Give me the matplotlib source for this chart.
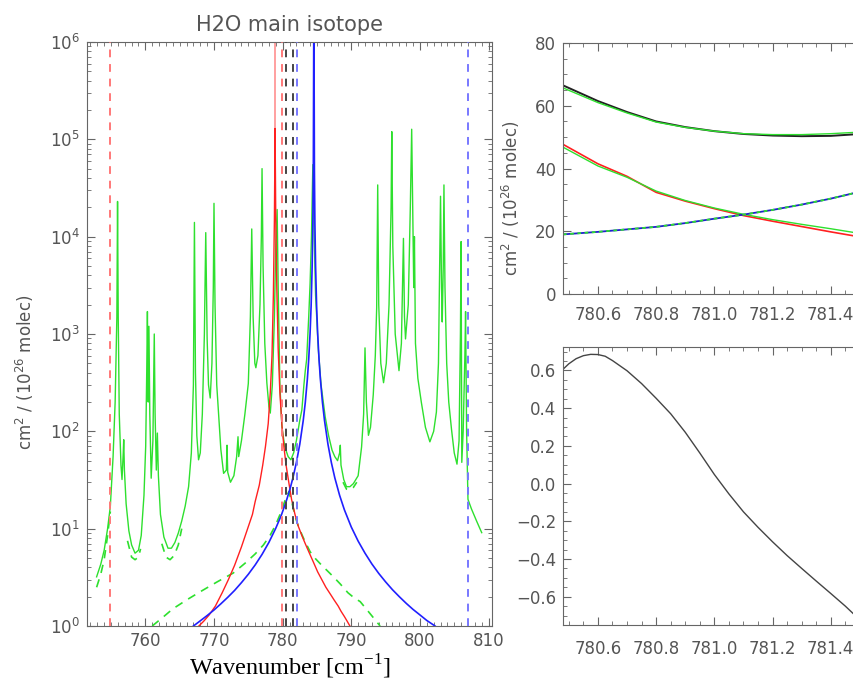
import numpy as np
import matplotlib.pyplot as plt
from matplotlib.ticker import MultipleLocator, LogLocator, NullFormatter

nan = float('nan')

# ---- left panel: full spectrum ----
green_x = [752.9, 753.5, 754.0, 754.5, 754.9, 755.3, 755.6, 755.85, 755.95, 756.05,
           756.2, 756.45, 756.6, 756.78, 756.85, 756.95, 757.2, 757.6, 758.0, 758.5,
           759.0, 759.4, 759.8, 760.05, 760.2, 760.3, 760.42, 760.52, 760.65, 760.85,
           761.1, 761.3, 761.42, 761.6, 761.75, 761.9, 762.2, 762.7, 763.3, 763.8,
           764.3, 764.8, 765.3, 765.8, 766.3, 766.7, 767.0, 767.15, 767.3, 767.5,
           767.75, 768.0, 768.3, 768.6, 768.8, 769.0, 769.2, 769.45, 769.7, 769.9,
           770.0, 770.15, 770.4, 770.7, 771.0, 771.4, 771.8, 771.9, 772.0, 772.4,
           772.9, 773.3, 773.5, 773.6, 774.0, 774.5, 775.0, 775.3, 775.5, 775.7,
           775.95, 776.1, 776.4, 776.7, 776.9, 777.0, 777.15, 777.4, 777.7, 778.0,
           778.2, 778.5, 778.8, 779.0, 779.2, 779.35, 779.6, 779.9, 780.3, 780.8,
           781.2, 781.6, 782.0, 782.5, 782.8, 783.1, 783.3, 783.5, 783.8, 784.0,
           784.2, 784.4, 784.6, 784.8, 785.0, 785.2, 785.6, 786.2, 786.7, 787.2,
           787.6, 788.0, 788.3, 788.4, 788.5, 788.9, 789.3, 789.8, 790.3, 791.0,
           791.5, 791.8, 792.0, 792.2, 792.5, 792.8, 793.2, 793.5, 793.7, 793.85,
           794.0, 794.3, 794.7, 795.1, 795.5, 795.8, 795.9, 796.05, 796.4, 796.95,
           797.3, 797.6, 797.75, 797.9, 798.3, 798.6, 798.8, 798.95, 799.1, 799.2,
           799.35, 799.7, 800.2, 800.8, 801.45, 802.0, 802.4, 802.7, 803.0, 803.15,
           803.25, 803.4, 803.5, 803.65, 803.9, 804.2, 804.6, 805.0, 805.4, 805.7,
           805.9, 806.0, 806.1, 806.3, 806.55, 806.65, 806.8, 807.0, 807.5, 808.25,
           809.0]
green_y = [3.2, 4.3, 6.0, 10, 17, 55, 200, 1500, 23000, 1500,
           150, 45, 32, 60, 82, 40, 18, 9.5, 6.8, 5.6,
           6.0, 8.5, 22, 70, 400, 1700, 200, 1200, 150, 33,
           80, 1000, 150, 40, 96, 35, 14, 8.2, 6.3, 6.3,
           7.2, 9.0, 12, 17, 27, 60, 300, 14000, 400, 90,
           51, 60, 150, 1000, 11000, 900, 300, 220, 500, 3000,
           22000, 2000, 300, 140, 65, 37, 40, 72, 38, 30,
           35, 55, 88, 55, 80, 150, 310, 1500, 12000, 1500,
           500, 450, 600, 2000, 10000, 50000, 5000, 800, 315, 180,
           154, 300, 1500, 8000, 19000, 3000, 300, 110, 70, 55,
           51, 60, 80, 130, 166, 300, 420, 550, 1500, 3300,
           10000, 55000, 10000, 2500, 1300, 690, 300, 141, 90, 64,
           55, 50, 60, 72, 45, 32, 27, 27, 29, 35,
           69, 150, 720, 200, 91, 110, 237, 600, 1860, 34000,
           2000, 500, 316, 500, 2000, 20000, 120000, 8000, 1000, 420,
           800, 9600, 1500, 890, 2000, 20000, 127000, 20000, 3000, 10000,
           800, 350, 200, 110, 78, 100, 158, 500, 26000, 3000,
           1330, 5000, 34000, 3000, 500, 200, 105, 60, 46, 80,
           1000, 8900, 48, 100, 600, 1700, 100, 20, 16, 12,
           9.1]

# dashed green (visible pieces only, nan = gap)
gdash_x = [752.9, 753.5, 754.0, 754.5, 754.9, nan,
           757.4, 758.0, 758.5, 759.0, 759.3, nan,
           762.4, 763.0, 763.6, 764.2, 764.8, 765.3, nan,
           788.8, 789.3, 789.8, 790.3, 790.8, nan,
           761.0, 762.5, 764.0, 766.0, 768.0, 770.5, 772.8, 774.5, 776.0, 777.2,
           778.2, 779.0, 779.8, 780.4, 780.9, 781.4, 781.8, 782.3, 783.1, 784.0,
           784.8, 785.7, 786.5, 787.4, 788.4, 789.5, 790.4, 791.3, 792.7, 794.2]
gdash_y = [2.5, 3.4, 4.8, 8.5, 15, nan,
           7.5, 5.1, 4.8, 5.1, 6.2, nan,
           7.0, 5.1, 4.8, 5.3, 6.8, 10, nan,
           30, 25.5, 25, 26.5, 30, nan,
           1.0, 1.22, 1.5, 1.85, 2.25, 2.85, 3.5, 4.4, 5.5, 6.8,
           8.6, 11, 15, 20, 24, 18, 13.5, 10.5, 7.8, 5.8,
           4.9, 4.2, 3.7, 3.2, 2.7, 2.2, 1.95, 1.78, 1.35, 1.0]

red_x = [767.8, 768.5, 769.3, 770.2, 771.2, 772.1, 773.0, 774.0, 775.0, 775.6,
         776.0, 776.6, 777.1, 777.5, 777.9, 778.2, 778.45, 778.65, 778.8, 778.9,
         779.0, 779.15, 779.35, 779.6, 779.9, 780.2, 780.5, 780.8, 781.3, 781.8,
         782.3, 782.8, 783.3, 783.9, 784.5, 785.1, 785.7, 786.3, 787.0, 787.5,
         788.1, 788.5, 789.0, 789.4, 789.8]
red_y = [1.0, 1.12, 1.3, 1.6, 2.2, 3.0, 4.2, 6.5, 10.5, 14,
         19, 28, 45, 70, 120, 250, 600, 2500, 15000, 130000,
         15000, 3000, 700, 250, 115, 68, 45, 33, 20, 14,
         10.5, 8.5, 7.0, 5.6, 4.5, 3.6, 3.0, 2.5, 2.1, 1.85,
         1.6, 1.42, 1.25, 1.12, 1.0]

blue_x = [767.0, 768.0, 769.0, 770.0, 771.0, 772.0, 773.0, 774.0, 775.0, 776.0,
          777.0, 778.0, 779.0, 779.8, 780.5, 781.1, 781.5, 782.0, 782.5, 783.0,
          783.3, 783.6, 783.8, 784.0, 784.15, 784.3, 784.4, 784.47, 784.55, 784.63,
          784.7, 784.8, 784.95, 785.1, 785.3, 785.5, 785.8, 786.1, 786.6, 787.1,
          787.6, 788.3, 789.0, 790.0, 791.0, 792.0, 793.0, 794.0, 795.0, 796.0,
          797.0, 798.0, 799.0, 800.0, 801.0, 802.2]
blue_y = [1.0, 1.13, 1.28, 1.46, 1.69, 1.97, 2.32, 2.79, 3.4, 4.24,
          5.44, 7.23, 10.1, 13.7, 18.9, 26, 33.3, 47.7, 73.8, 129,
          198, 343, 551, 1025, 1940, 4960, 13800, 48400, 3e6, 48400,
          13800, 4960, 1940, 1025, 551, 343, 198, 129, 73.8, 47.7,
          33.3, 22, 15.6, 10.4, 7.45, 5.6, 4.34, 3.47, 2.84, 2.36,
          2.0, 1.71, 1.48, 1.30, 1.14, 1.0]

red_window = [754.9, 779.9]
zoom_window = [780.48, 781.5]
blue_window = [782.1, 807.0]

# ---- top right: zoom on 780.5-781.5 ----
zoom_x = [780.48, 780.6, 780.7, 780.8, 780.9, 781.0, 781.1, 781.2, 781.3, 781.4, 781.5, 781.6]
tot_y = [66.5, 61.5, 58.0, 55.0, 53.2, 51.9, 51.0, 50.5, 50.3, 50.4, 51.0, 51.8]
tot_g = [65.7, 61.0, 57.7, 54.8, 53.1, 51.9, 51.1, 50.8, 50.8, 51.1, 51.6, 52.4]
red_z = [47.7, 41.5, 37.5, 32.4, 29.6, 27.2, 25.0, 23.2, 21.5, 19.8, 18.2, 16.8]
red_g = [46.8, 40.8, 37.2, 32.8, 29.8, 27.4, 25.4, 23.7, 22.2, 20.8, 19.3, 18.1]
blue_z = [19.0, 19.8, 20.6, 21.4, 22.6, 24.0, 25.3, 26.8, 28.5, 30.4, 32.6, 34.8]

# ---- bottom right: difference ----
diff_x = [780.476, 780.5, 780.525, 780.55, 780.575, 780.6, 780.625, 780.65, 780.7,
          780.75, 780.8, 780.85, 780.9, 780.95, 781.0, 781.05, 781.1, 781.15,
          781.2, 781.25, 781.3, 781.35, 781.4, 781.45, 781.5]
diff_y = [0.600, 0.635, 0.662, 0.678, 0.685, 0.684, 0.675, 0.652, 0.598,
          0.530, 0.452, 0.370, 0.272, 0.162, 0.048, -0.055, -0.150, -0.232,
          -0.309, -0.382, -0.450, -0.517, -0.583, -0.650, -0.723]

GREEN = '#2ee02e'
GRAY = '#555555'
ylab = r'cm$^2$ / (10$^{26}$ molec)'

fig = plt.figure(figsize=(8.54, 6.8), dpi=100)
W, H = 854.0, 680.0


def style(ax):
    ax.tick_params(which='both', direction='in', top=True, right=True,
                   colors='#666666', labelcolor=GRAY, labelsize=12)
    ax.tick_params(which='major', length=6)
    ax.tick_params(which='minor', length=3)
    for s in ax.spines.values():
        s.set_color('#666666')


# left panel
ax = fig.add_axes([87 / W, 1 - 626 / H, 405 / W, 584 / H])
ax.plot(green_x, green_y, color=GREEN, lw=1)
ax.plot(gdash_x, gdash_y, color=GREEN, lw=1.2, ls=(0, (5, 4)))
ax.plot(red_x, red_y, color='#ff2020', lw=1)
ax.plot(blue_x, blue_y, color='#2020ff', lw=1.2)
ipk = red_y.index(max(red_y))
ax.vlines(red_x[ipk], red_y[ipk], 1e6, color='#ff9090', lw=1.2)
for xs, c in [(red_window, '#ff7878'), (zoom_window, '#444444'), (blue_window, '#7878ff')]:
    for xv in xs:
        ax.axvline(xv, color=c, lw=1.4, ls=(0, (4, 3.5)), zorder=5)
ax.set_yscale('log')
ax.set_xlim(751.5, 810.5)
ax.set_ylim(1, 1e6)
ax.xaxis.set_major_locator(MultipleLocator(10))
ax.xaxis.set_minor_locator(MultipleLocator(1))
ax.yaxis.set_major_locator(LogLocator(base=10, numticks=10))
ax.yaxis.set_minor_locator(LogLocator(base=10, subs=np.arange(2, 10), numticks=20))
ax.yaxis.set_minor_formatter(NullFormatter())
style(ax)
ax.tick_params(axis='x', pad=4)
ax.tick_params(axis='y', pad=5)
ax.set_title('H2O main isotope', color=GRAY, fontsize=15, pad=8)
fig.text(25 / W, 1 - 372 / H, ylab, rotation=90, ha='center', va='center',
         color=GRAY, fontsize=12)
fig.text(290 / W, 1 - 675 / H, 'Wavenumber [cm$^{\\mathregular{-1}}$]',
         ha='center', va='baseline', fontsize=17.5, family='Liberation Serif')

# top right panel
ax2 = fig.add_axes([563 / W, 1 - 294 / H, 326 / W, 251 / H])
ax2.plot(zoom_x, tot_y, color='#222222', lw=1.4)
ax2.plot(zoom_x, tot_g, color=GREEN, lw=1)
ax2.plot(zoom_x, red_z, color='#ff2020', lw=1.2)
ax2.plot(zoom_x, red_g, color=GREEN, lw=1)
ax2.plot(zoom_x, blue_z, color='#2020cc', lw=1.3)
ax2.plot(zoom_x, blue_z, color=GREEN, lw=1.3, ls=(0, (2, 2)))
ax2.set_xlim(780.48, 781.6)
ax2.set_ylim(0, 80)
ax2.xaxis.set_major_locator(MultipleLocator(0.2))
ax2.xaxis.set_minor_locator(MultipleLocator(0.05))
ax2.yaxis.set_major_locator(MultipleLocator(20))
ax2.yaxis.set_minor_locator(MultipleLocator(5))
ax2.xaxis.set_major_formatter(lambda v, p: f'{v:.1f}')
style(ax2)
ax2.tick_params(axis='x', pad=9)
ax2.tick_params(axis='y', pad=5)
fig.text(511 / W, 1 - 198 / H, ylab, rotation=90, ha='center', va='center',
         color=GRAY, fontsize=12)

# bottom right panel
ax3 = fig.add_axes([563 / W, 1 - 625 / H, 326 / W, 278 / H])
ax3.plot(diff_x, diff_y, color='#444444', lw=1)
ax3.set_xlim(780.48, 781.6)
ax3.set_ylim(-0.75, 0.724)
ax3.xaxis.set_major_locator(MultipleLocator(0.2))
ax3.xaxis.set_minor_locator(MultipleLocator(0.05))
ax3.yaxis.set_major_locator(MultipleLocator(0.2))
ax3.yaxis.set_minor_locator(MultipleLocator(0.05))
ax3.xaxis.set_major_formatter(lambda v, p: f'{v:.1f}')
ax3.yaxis.set_major_formatter(lambda v, p: f'{v:.1f}'.replace('-', '\u2212'))
style(ax3)
ax3.tick_params(axis='x', pad=11)
ax3.tick_params(axis='y', pad=5)

fig.savefig('out.png', dpi=100)
